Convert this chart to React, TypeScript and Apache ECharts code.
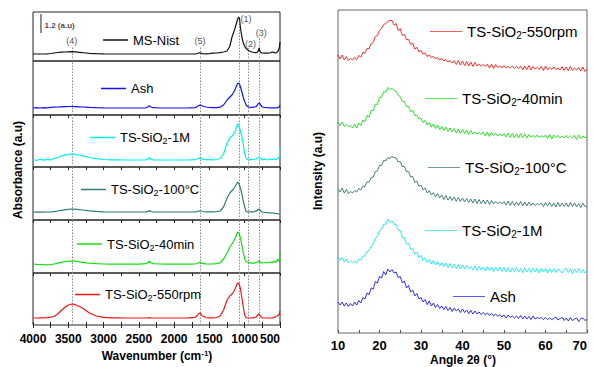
import React, { useEffect, useRef } from "react";
import * as echarts from "echarts";

// ---------------- FTIR data (left) ----------------
const wavenumbers = [
  4000, 3950, 3900, 3850, 3800, 3750, 3700, 3650, 3600, 3550, 3500, 3450,
  3400, 3350, 3300, 3250, 3200, 3100, 3000, 2900, 2800, 2700, 2600, 2500,
  2400, 2370, 2360, 2350, 2340, 2330, 2300, 2200, 2100, 2000, 1900, 1800,
  1700, 1670, 1650, 1635, 1620, 1600, 1550, 1500, 1450, 1400, 1350, 1300,
  1250, 1210, 1180, 1160, 1140, 1120, 1100, 1085, 1075, 1060, 1040, 1020,
  1000, 980, 960, 945, 930, 900, 870, 840, 820, 810, 800, 795,
  785, 770, 750, 720, 680, 640, 610, 590, 560, 530, 510, 500,
];

const ftirMsNist = [
  7, 7, 7, 7, 7.2, 7.5, 8, 8.5, 8.8, 9, 9.2, 9.3,
  9.1, 8.7, 8.3, 8, 7.7, 7.3, 7.1, 7, 7, 7, 7, 7,
  7, 7, 7, 7, 7, 7, 7, 7, 7, 7, 7, 7,
  7.2, 7.5, 8, 8.2, 7.8, 7.4, 7.2, 7.4, 7.8, 8, 8.3, 9,
  10, 15, 24, 28, 32, 37, 42, 44, 43, 33, 24, 18,
  14.5, 12.5, 11.3, 10.5, 10, 9, 8.5, 8.3, 8.8, 9.8, 12, 13,
  10, 8.3, 8, 7.8, 7.8, 8, 9, 8.6, 8, 9.5, 13, 19,
];
const ftirAsh = [
  7, 7.3, 7, 7.4, 7.2, 7.6, 7.8, 8, 8.2, 8.4, 8.5, 8.5,
  8.4, 8.2, 8, 7.8, 7.6, 7.3, 7.1, 7, 7, 7, 7, 7,
  7.2, 8, 9.2, 8.8, 9, 8, 7.3, 7, 7, 7, 7, 7.1,
  7.4, 8.5, 9.5, 10, 9.8, 9, 8, 7.5, 7.3, 7.3, 7.8, 10,
  15, 18, 20, 22.5, 25, 28.5, 31.5, 32, 31, 28, 23, 17.5,
  13.5, 10, 8.5, 8, 7.8, 7.7, 7.8, 8.5, 10, 11, 12, 12,
  11.5, 9.5, 8, 7.5, 7.3, 7.2, 7.2, 7.2, 7.2, 7.3, 8, 10,
];
const ftir1M = [
  7.5, 6.5, 7.8, 6.8, 7.6, 7, 8.5, 9.5, 10.8, 11.8, 12.6, 13,
  12.7, 12, 11.2, 10.3, 9.5, 8.3, 7.5, 7.2, 7.1, 7, 7, 7,
  7.2, 8, 9.5, 8.5, 9, 7.8, 7.2, 7, 7, 7, 7, 7,
  7.3, 8, 8.8, 9, 8.6, 7.8, 7.3, 7.3, 7.2, 7.5, 8.5, 13,
  24, 29, 31, 32.5, 35, 39, 43, 41, 39.5, 36, 30, 22,
  14, 8.5, 7.5, 7.2, 7.5, 7.3, 7.6, 8, 9, 9.6, 10, 10,
  9.5, 8, 7.3, 7.8, 7, 8, 7.2, 8.2, 7.4, 8.5, 10, 20,
];
const ftir100C = [
  8, 7.8, 8, 7.9, 8, 8.1, 8.4, 9, 9.6, 10.2, 10.7, 11,
  10.8, 10.4, 10, 9.6, 9.2, 8.6, 8.2, 8, 8, 8, 8, 8,
  8.1, 8.6, 9.3, 8.8, 9.2, 8.5, 8.1, 8, 8, 8, 8, 8,
  8.2, 8.6, 9, 9.2, 9, 8.5, 8.2, 8.1, 8.1, 8.3, 9, 13,
  22, 27, 29.5, 31, 33, 35.5, 38, 36.5, 35, 31.5, 26, 19,
  13, 8.5, 8, 8, 8.2, 8.1, 8.3, 8.8, 9.8, 10.5, 11, 11,
  10.3, 8.8, 8, 7.6, 7.4, 7.2, 7, 6.8, 6.5, 6.2, 6, 6,
];
const ftir40min = [
  9, 8.7, 8.5, 8.3, 8.2, 8.4, 9, 9.8, 10.6, 11.3, 11.8, 12,
  11.8, 11.3, 10.7, 10.2, 9.8, 9.3, 9, 8.9, 8.8, 8.8, 8.8, 8.9,
  9.3, 10.5, 12, 10.5, 11.5, 10.2, 9.4, 9, 8.9, 8.8, 8.8, 8.8,
  9, 9.5, 10.3, 10.8, 10.4, 9.6, 9.1, 9, 9, 9.3, 10.2, 14,
  20, 26, 29, 31.5, 34, 37.5, 41, 40, 38.5, 35, 28, 20,
  14, 11.5, 10.8, 10.5, 10.2, 9.8, 9.8, 10.3, 11, 11.5, 12, 12,
  11.2, 10.3, 10, 10.5, 10, 11, 10.2, 12, 10.5, 14, 11, 20,
];
const ftir550rpm = [
  7, 7, 7.1, 7.2, 7.4, 7.8, 8.5, 11, 14.5, 17.5, 20, 21,
  20.3, 18.8, 17, 14.5, 12, 9, 7.6, 7.2, 7.1, 7, 7, 7,
  7, 7.1, 7.3, 7.2, 7.2, 7.1, 7, 7, 7, 7, 7, 7.1,
  7.6, 9.5, 11.5, 12, 11, 9, 7.5, 7.2, 7.2, 7.5, 9, 15,
  25, 29, 31, 33, 35.5, 39, 42, 41.5, 40, 36, 27, 18,
  10, 7.3, 7, 7, 7, 7.1, 7.3, 8, 9.5, 10.5, 11, 11,
  10, 8, 7.2, 7, 7, 7, 7, 7.3, 8.5, 9.5, 11, 14,
];

const ftirNames = ["MS-Nist", "Ash", "TS-SiO2-1M", "TS-SiO2-100°C", "TS-SiO2-40min", "TS-SiO2-550rpm"];
const ftirValues = [ftirMsNist, ftirAsh, ftir1M, ftir100C, ftir40min, ftir550rpm];
const ftirColors = ["#111111", "#1010ff", "#00f0f0", "#2f7d7d", "#10e010", "#ff1010"];

const peakWavenumbers = [1080, 945, 795, 3450, 1635];
const peakLabels = ["(1)", "(2)", "(3)", "(4)", "(5)"];
const peakLabelLevel = [42, 17, 28, 20, 20];
const peakLineTop = [37, 13, 24, 15, 15];

const xTicksLeft = [500, 4000, 500];

// ---------------- XRD data (right) ----------------
const xrdAsh = [
  18, 15, 18, 14, 17, 13.5, 16.5, 14, 18, 15,
  19.5, 17, 22.5, 21, 27, 25.5, 32, 31, 38.5, 37,
  43.5, 42, 48.5, 45, 51, 48, 50.5, 47, 48, 42.5,
  43.5, 37, 39, 32, 34.5, 28, 30, 24, 26.5, 21,
  22.5, 18, 20.5, 15.5, 19, 14, 17, 12.5, 15.5, 11.5,
  14, 10.5, 13.5, 9.5, 12.5, 8.5, 12, 9, 11, 7.5,
  11, 7.5, 10, 6.5, 9.5, 6, 9, 6, 8, 5.5,
  7.5, 5, 7, 4.5, 6.5, 4, 6, 3.5, 5.5, 3,
  5, 2, 5, 2.5, 4, 2, 4, 1.5, 4.5, 1,
  4, 1, 3.5, 0.5, 4, 1, 2.5, 1.5, 2.5, 0.5,
  2.5, 0.5, 2, 0.5, 1.5, 3, 0, 1.5, 2.5, -0.5,
  2, -1, 2.5, -0.5, 1, 2, -1.5, 1.5, 2, -0.5,
  0.5,
];
const xrd1M = [
  14, 10.5, 13.5, 9, 12, 8, 10, 8.5, 10, 8,
  12, 11, 15, 15, 19.5, 20.5, 25.5, 27, 33, 34.5,
  40.5, 41.5, 47, 46.5, 52, 49, 50, 47, 46.5, 40.5,
  40.5, 33.5, 33.5, 27, 27.5, 21.5, 22.5, 17, 18.5, 13.5,
  15.5, 10.5, 13, 8.5, 11.5, 7, 10.5, 6, 9.5, 5,
  8.5, 4.5, 8, 3.5, 7.5, 3, 7, 2.5, 6.5, 2,
  6, 2, 5.5, 2, 4.5, 1, 5, 0.5, 4.5, 1,
  4, 0, 4.5, 0.5, 4, -0.5, 3.5, 0, 4, -0.5,
  3.5, -0.5, 3.5, -1, 3, -0.5, 3.5, -1, 2.5, -1.5,
  3, -1, 2.5, -1.5, 3, -1, 2.5, -2, 2.5, -1,
  2.5, -2, 2, -1.5, 2.5, -1.5, 2, 0.5, -2, 1.5,
  2.5, -1.5, 2, -2.5, 2, -1.5, 2.5, -2, 1.5, -2,
  1,
];
const xrd100C = [
  16, 13, 17, 12, 15.5, 11.5, 13.5, 12, 14.5, 13,
  16.5, 15, 19, 18.5, 23, 23, 27.5, 28, 33.5, 34,
  39.5, 39.5, 44.5, 44, 47.5, 46.5, 48.5, 47.5, 47, 43,
  43.5, 38.5, 38.5, 33.5, 33.5, 28, 28.5, 22.5, 24, 18.5,
  20, 15, 17, 12, 14.5, 10, 12.5, 8, 11.5, 7,
  10, 5.5, 9.5, 5, 8.5, 4.5, 8, 3.5, 7.5, 3.5,
  7, 3, 6.5, 2.5, 6, 2, 6, 1.5, 5.5, 1.5,
  5, 1, 5, 0.5, 4.5, 1, 3.5, 1.5, 3, 1,
  3.5, 0, 4, -0.5, 3.5, -0.5, 3, -0.5, 3.5, -1,
  3, -1, 3, -0.5, 2, -0.5, 1.5, 0, 2, -1.5,
  2.5, -1, 2.5, -1.5, 2, -2, 2.5, -1.5, 2, -1.5,
  2, -2, 2.5, -1.5, 2, -2, 1.5, -2.5, 2, -1.5,
  -1,
];
const xrd40min = [
  15, 11.5, 15, 10.5, 12.5, 10.5, 11.5, 9, 13, 9,
  14, 11.5, 17, 15.5, 21.5, 20, 26.5, 26.5, 33, 32.5,
  39.5, 39.5, 45.5, 44.5, 49.5, 47.5, 48.5, 46.5, 45.5, 41.5,
  40.5, 35.5, 35.5, 30.5, 30.5, 25.5, 26.5, 21.5, 22, 18,
  18.5, 14.5, 16.5, 12, 14.5, 10, 13, 8.5, 12, 7.5,
  10.5, 6.5, 10, 5.5, 9, 5, 8.5, 4, 8, 3.5,
  7.5, 3.5, 7, 2.5, 6.5, 3, 5, 3, 4.5, 2.5,
  5, 1, 5, 0.5, 4.5, 1.5, 3.5, 1, 3, 1,
  3.5, 0, 4, -0.5, 3.5, -0.5, 3, -1, 3.5, -0.5,
  3, -1, 2.5, 0, 1.5, -0.5, 2, -0.5, 1.5, -0.5,
  2, -1.5, 2.5, -2, 2, -0.5, 1.5, -1, 1, -1,
  1.5, -1, 1, -1, 1.5, -2.5, 2, -1.5, 1, -1,
  0.5,
];
const xrd550rpm = [
  14, 10, 14, 9, 12.5, 8.5, 10.5, 9, 11.5, 9.5,
  13.5, 12, 16.5, 16, 20.5, 20.5, 25.5, 26.5, 32.5, 33.5,
  38.5, 40.5, 44.5, 45.5, 47.5, 48.5, 48.5, 44, 45.5, 38.5,
  40.5, 33.5, 34.5, 29.5, 29.5, 24.5, 26, 20, 21.5, 17,
  18.5, 15, 16, 12.5, 14, 11.5, 12.5, 10, 11.5, 9,
  10.5, 8, 9.5, 7, 8.5, 6, 8.5, 4.5, 8.5, 4,
  8, 3.5, 7.5, 3, 7, 2.5, 6.5, 3, 5, 3,
  4.5, 2.5, 5, 1, 5, 0.5, 4.5, 1.5, 3, 1,
  3.5, 1, 2.5, 1, 3, 0.5, 2.5, 0.5, 3, -1,
  3, -0.5, 3.5, -1, 2.5, 0, 1.5, -0.5, 2.5, -1.5,
  3, -1, 1.5, -0.5, 2, -0.5, 1, -1, 2.5, -1.5,
  2, -2, 2.5, -1.5, 1, -1, 1.5, -2, 2, -2.5,
  0,
];

const xrdNames = ["Ash", "TS-SiO2-1M", "TS-SiO2-100°C", "TS-SiO2-40min", "TS-SiO2-550rpm"];
const xrdValues = [xrdAsh, xrd1M, xrd100C, xrd40min, xrd550rpm];
const xrdStackOffset = [13, 62, 128, 196, 264];
const xrdColors = ["#1515ee", "#10e8f0", "#2f6f6f", "#10e010", "#ff1515"];
const xrdAngleStart = 10;
const xrdAngleStep = 0.5;

// ---------------- layout ----------------
const FONT = 'Arial, "Liberation Sans", Helvetica, sans-serif';
const leftX = 33;
const leftW = 247;
const panelTop = [12, 61, 115, 167, 220, 273];
const panelH = [49, 54, 52, 53, 53, 52];
const rightGrid = { left: 338, top: 10, width: 249, height: 323 };

const ftirLegendPos = [
  [103, 41.5], [101, 90], [90, 139], [81, 191], [77, 245.5], [75, 296],
];
const xrdLegendPos = [
  [453, 298], [425, 232], [428, 169], [425, 100], [430, 33],
];

const richName: Record<string, string> = {
  "MS-Nist": "{t|MS-Nist}",
  Ash: "{t|Ash}",
  "TS-SiO2-1M": "{t|TS-SiO}{s|2}{t|-1M}",
  "TS-SiO2-100°C": "{t|TS-SiO}{s|2}{t|-100°C}",
  "TS-SiO2-40min": "{t|TS-SiO}{s|2}{t|-40min}",
  "TS-SiO2-550rpm": "{t|TS-SiO}{s|2}{t|-550rpm}",
};

function buildOption() {
  const grids: any[] = panelTop.map((t, i) => ({
    left: leftX, top: t, width: leftW, height: panelH[i],
    show: true, borderColor: "#222", borderWidth: 1, backgroundColor: "transparent",
    containLabel: false, outerBoundsMode: "none",
  }));
  grids.push({ ...rightGrid, show: true, borderColor: "#666", borderWidth: 1, containLabel: false, outerBoundsMode: "none" });

  const tickColor = { color: "#222", width: 1 };
  const xAxes: any[] = panelTop.map((_, i) => ({
    gridIndex: i, type: "value", min: xTicksLeft[0], max: xTicksLeft[1], interval: xTicksLeft[2],
    inverse: true, position: "top",
    axisLine: { show: false },
    axisTick: { show: i > 0, inside: true, length: 3, lineStyle: tickColor },
    minorTick: { show: i > 0, splitNumber: 2, length: 3, lineStyle: tickColor },
    axisLabel: { show: false }, splitLine: { show: false }, minorSplitLine: { show: false },
  }));
  xAxes.push({
    gridIndex: 5, type: "value", min: xTicksLeft[0], max: xTicksLeft[1], interval: xTicksLeft[2],
    inverse: true, position: "bottom",
    axisLine: { show: false },
    axisTick: { show: true, inside: true, length: 3, lineStyle: tickColor },
    minorTick: { show: true, splitNumber: 2, length: 3, lineStyle: tickColor },
    axisLabel: {
      show: true, fontSize: 12, fontWeight: "bold", fontFamily: FONT, color: "#000", margin: 8,
      formatter: (v: number) => String(v), alignMinLabel: "right",
    },
    splitLine: { show: false }, minorSplitLine: { show: false },
  });
  xAxes.push({
    gridIndex: 6, type: "value", min: 10, max: 70, interval: 10, position: "bottom",
    axisLine: { show: false },
    axisTick: { show: true, inside: true, length: 3, lineStyle: { color: "#555" } },
    minorTick: { show: true, splitNumber: 2, length: 3, lineStyle: { color: "#555" } },
    axisLabel: {
      show: true, fontSize: 13, fontWeight: "bold", fontFamily: FONT, color: "#000", margin: 6,
      formatter: (v: number) => String(v), alignMaxLabel: "right",
    },
    splitLine: { show: false }, minorSplitLine: { show: false },
  });

  const yAxes: any[] = panelH.map((h, i) => ({ gridIndex: i, type: "value", min: 0, max: h, show: false }));
  yAxes.push({ gridIndex: 6, type: "value", min: 0, max: rightGrid.height, show: false });

  const dotted = { color: "#8a8a8a", width: 1, type: [1.5, 1.5] as any };
  const series: any[] = ftirNames.map((name, i) => ({
    type: "line", name, xAxisIndex: i, yAxisIndex: i,
    data: wavenumbers.map((w, k) => [w, ftirValues[i][k]]),
    symbol: "none", lineStyle: { color: ftirColors[i], width: 1.2 }, itemStyle: { color: ftirColors[i] },
    z: 3,
    markLine: {
      silent: true, symbol: ["none", "none"], label: { show: false }, lineStyle: dotted, z: 1,
      data: i === 0
        ? peakWavenumbers.map((w, k) => [{ coord: [w, 0] }, { coord: [w, peakLineTop[k]] }])
        : peakWavenumbers.map((w) => ({ xAxis: w })),
    },
  }));

  // peak labels
  const labelDx = [7, 2, 2, 0, 0];
  series.push({
    type: "scatter", xAxisIndex: 0, yAxisIndex: 0, symbolSize: 1, silent: true,
    itemStyle: { color: "transparent" },
    data: peakWavenumbers.map((w, k) => ({
      value: [w, peakLabelLevel[k]],
      label: {
        show: true, formatter: peakLabels[k], position: "inside", offset: [labelDx[k], 0],
        fontSize: 9, fontFamily: FONT, color: "#222",
      },
    })),
  });
  // scale bar 1.2 (a.u)
  series.push({
    type: "line", xAxisIndex: 0, yAxisIndex: 0, symbol: "none", silent: true,
    data: [[3887, 28], [3887, 47]], lineStyle: { color: "#222", width: 1 },
  });
  series.push({
    type: "scatter", xAxisIndex: 0, yAxisIndex: 0, symbolSize: 1, silent: true,
    itemStyle: { color: "transparent" },
    data: [{
      value: [3887, 36],
      label: { show: true, formatter: "1.2 (a.u)", position: "right", distance: 3, fontSize: 8, fontWeight: "bold", fontFamily: FONT, color: "#111" },
    }],
  });

  const xrdAngles = xrdValues[0].map((_, k) => xrdAngleStart + k * xrdAngleStep);
  xrdNames.forEach((name, i) => {
    series.push({
      type: "line", name: "XRD:" + name, xAxisIndex: 7, yAxisIndex: 6,
      data: xrdAngles.map((a, k) => [a, xrdStackOffset[i] + xrdValues[i][k]]),
      symbol: "none", lineStyle: { color: xrdColors[i], width: 0.9 }, itemStyle: { color: xrdColors[i] },
    });
  });

  const mkRich = (fs: number) => ({
    t: { fontSize: fs, fontFamily: FONT, color: "#000", lineHeight: fs + 3 },
    s: { fontSize: Math.round(fs * 0.68), fontFamily: FONT, color: "#000", padding: [Math.round(fs * 0.5), 0, 0, 0] },
  });
  const legends: any[] = [];
  ftirNames.forEach((name, i) => {
    const [lx, cy] = ftirLegendPos[i];
    legends.push({
      data: [name], left: lx, top: cy - 8, padding: 0, itemWidth: 25, itemHeight: 1.5, icon: "rect",
      selectedMode: false,
      formatter: (n: string) => richName[n],
      textStyle: { fontSize: 13, fontFamily: FONT, color: "#000", rich: mkRich(13) },
    });
  });
  xrdNames.forEach((name, i) => {
    const [lx, cy] = xrdLegendPos[i];
    legends.push({
      data: ["XRD:" + name], left: lx, top: cy - 9, padding: 0, itemWidth: 32, itemHeight: 1, icon: "rect",
      selectedMode: false,
      formatter: (n: string) => richName[n.replace("XRD:", "")],
      textStyle: { fontSize: 15, fontFamily: FONT, color: "#000", rich: mkRich(15) },
      itemStyle: { opacity: 0.7 },
    });
  });

  const titleStyle = { fontSize: 12, fontWeight: "bold", fontFamily: FONT, fill: "#000", align: "center", verticalAlign: "middle" };
  const graphic: any[] = [
    { type: "text", x: 18, y: 170, rotation: Math.PI / 2, style: { ...titleStyle, text: "Absorbance (a.u)" } },
    { type: "text", x: 318, y: 171, rotation: Math.PI / 2, style: { ...titleStyle, text: "Intensity (a.u)" } },
    { type: "text", x: 463, y: 360, style: { ...titleStyle, text: "Angle 2θ (°)" } },
    {
      type: "text", x: 157, y: 356,
      style: {
        ...titleStyle,
        text: "{b|Wavenumber (cm}{p|-1}{b|)}",
        rich: {
          b: { fontSize: 12, fontWeight: "bold", fontFamily: FONT, fill: "#000", color: "#000" },
          p: { fontSize: 8, fontWeight: "bold", fontFamily: FONT, fill: "#000", color: "#000", padding: [0, 0, 6, 0] },
        },
      },
    },
  ];

  return {
    animation: false,
    backgroundColor: "#ffffff",
    grid: grids,
    xAxis: xAxes,
    yAxis: yAxes,
    legend: legends,
    series,
    graphic,
  };
}

export default function App() {
  const ref = useRef<HTMLDivElement>(null);
  useEffect(() => {
    if (!ref.current) return;
    const chart = echarts.init(ref.current, null, { renderer: "svg" });
    chart.setOption(buildOption() as any);
    return () => chart.dispose();
  }, []);
  return (
    <div
      ref={ref}
      style={{ position: "absolute", left: 0, top: 0, width: 593, height: 367, background: "#fff" }}
    />
  );
}
